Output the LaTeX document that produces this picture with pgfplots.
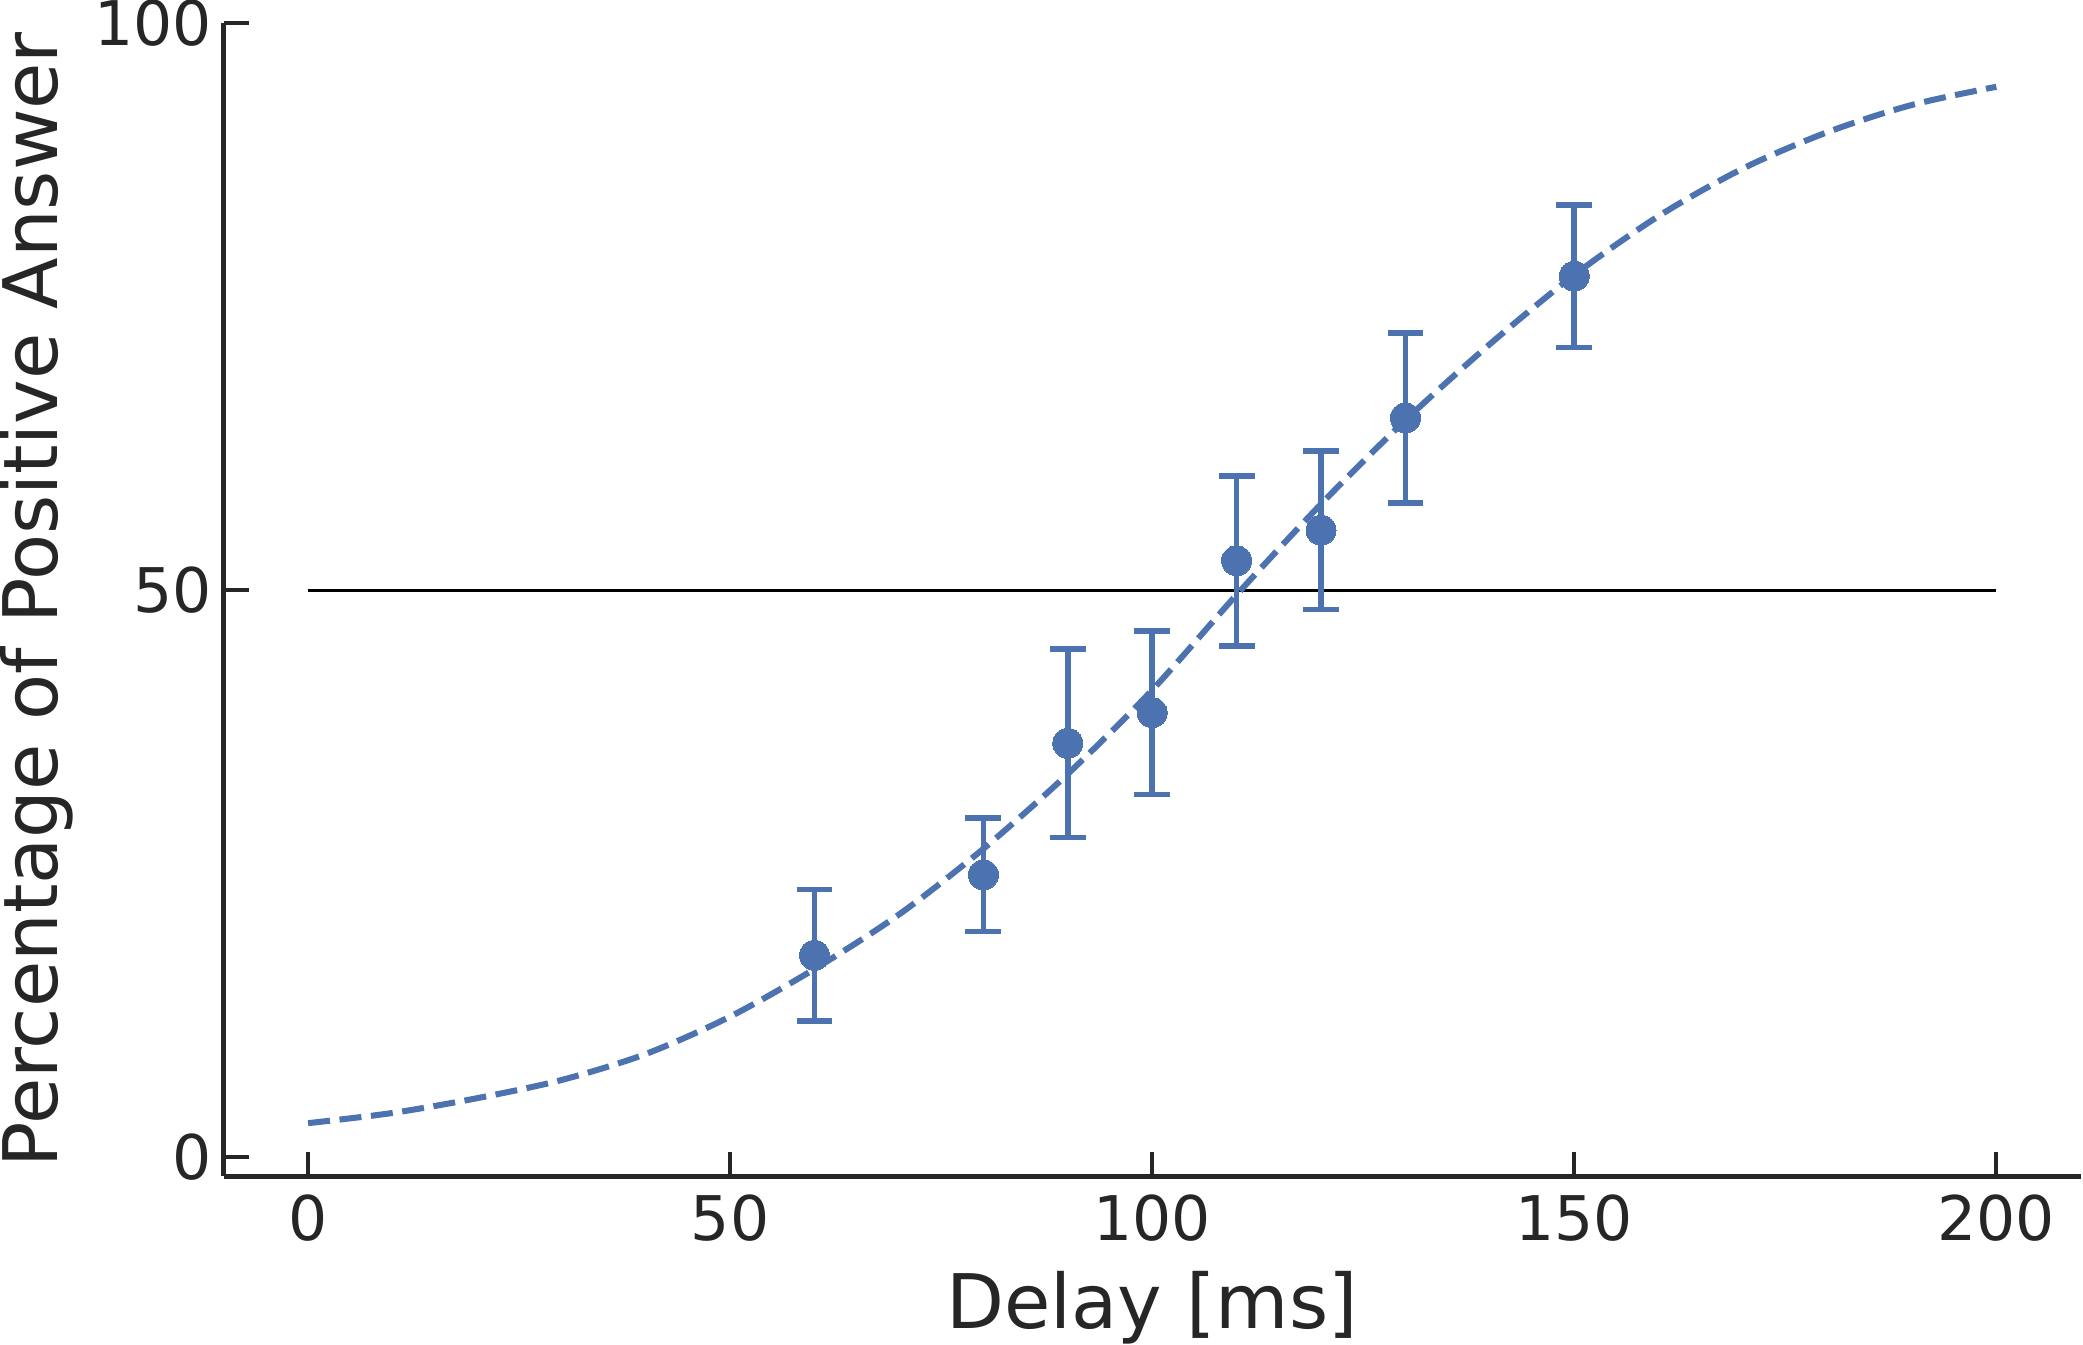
\documentclass[border=0pt]{standalone}
\usepackage{fontspec}
\setmainfont{DejaVu Sans}
\usepackage{pgfplots}
\usepackage{pgfplotstable}
\pgfplotsset{compat=1.18}

\definecolor{sbblue}{HTML}{4C72B0}
\definecolor{sbtext}{HTML}{262626}

% measured points, symmetric error
\pgfplotstableread{
x   y    err
60  17.8 5.8
80  24.9 5.0
90  36.5 8.3
100 39.2 7.2
110 52.6 7.5
120 55.3 7.0
130 65.2 7.5
150 77.7 6.3
}\measured

% fitted curve
\pgfplotstableread{
x   y
0   3.0
10  3.9
20  5.2
30  6.8
40  9.1
50  12.4
60  16.6
70  21.4
80  27.2
90  33.8
100 41.2
110 49.6
120 57.6
130 65.0
140 71.7
150 77.8
160 83.0
170 87.2
180 90.4
190 92.8
200 94.4
}\fitted

\begin{document}
\begin{tikzpicture}
\begin{axis}[
  scale only axis,
  width=446.4pt, height=277.2pt,
  xmin=-10, xmax=210, ymin=-1.7, ymax=100,
  axis x line*=bottom, axis y line*=left,
  axis line style={-, draw=sbtext, line width=1.1pt},
  xtick={0,50,...,200}, ytick={0,50,100},
  tick align=inside,
  major tick length=6pt,
  tick style={draw=sbtext, line width=1.0pt},
  /pgf/number format/assume math mode=true,
  every tick label/.append style={font=\fontsize{14.8}{17}\selectfont, text=sbtext, inner sep=0pt},
  xticklabel shift=4.1pt, yticklabel shift=2.6pt,
  label style={font=\fontsize{18.1}{22}\selectfont, text=sbtext, inner sep=0pt},
  xlabel={Delay [ms]},
  ylabel={Percentage of Positive Answer},
  xlabel shift=7.2pt, ylabel shift=5pt,
  clip=false,
]
\addplot[black, line width=0.67pt, forget plot] coordinates {(0,50) (200,50)};

\addplot[sbblue, line width=1.45pt, dash pattern=on 5.3pt off 2.3pt, smooth]
  table[x=x, y=y] {\fitted};

\addplot[sbblue, only marks, mark=*, mark size=3.6pt,
  mark options={fill=sbblue, draw=sbblue, line width=0pt},
  error bars/.cd, y dir=both, y explicit,
  error bar style={line width=1.35pt, sbblue},
  error mark options={rotate=90, mark size=4.3pt, line width=1.35pt, sbblue}]
  table[x=x, y=y, y error=err] {\measured};
\end{axis}
\end{tikzpicture}
\end{document}
